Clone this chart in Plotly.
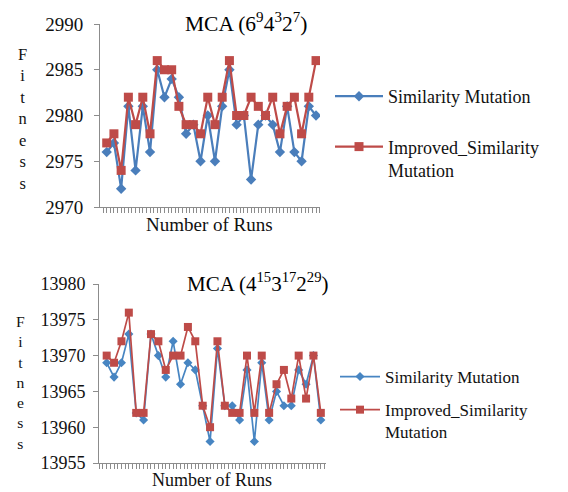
import plotly.graph_objects as go

runs = list(range(1, 31))

top_similarity = [2976, 2977, 2972, 2981, 2974, 2981, 2976, 2985, 2982, 2984,
                  2982, 2978, 2979, 2975, 2980, 2975, 2981, 2985, 2979, 2980,
                  2973, 2979, 2980, 2979, 2976, 2981, 2976, 2975, 2981, 2980]
top_improved = [2977, 2978, 2974, 2982, 2979, 2982, 2978, 2986, 2985, 2985,
                2981, 2979, 2979, 2978, 2982, 2979, 2982, 2986, 2980, 2980,
                2982, 2981, 2980, 2982, 2978, 2981, 2982, 2978, 2982, 2986]

bottom_similarity = [13969, 13967, 13969, 13973, 13962, 13961, 13973, 13970, 13967, 13972,
                     13966, 13969, 13968, 13963, 13958, 13971, 13963, 13963, 13961, 13968,
                     13958, 13969, 13961, 13965, 13963, 13963, 13968, 13966, 13970, 13961]
bottom_improved = [13970, 13969, 13972, 13976, 13962, 13962, 13973, 13972, 13968, 13970,
                   13970, 13974, 13972, 13963, 13960, 13972, 13963, 13962, 13962, 13970,
                   13962, 13970, 13962, 13966, 13968, 13964, 13970, 13964, 13970, 13962]

series_names = ["Similarity Mutation", "Improved_Similarity<br>Mutation"]
top_title = "MCA (6<sup>9</sup>4<sup>3</sup>2<sup>7</sup>)"
bottom_title = "MCA (4<sup>15</sup>3<sup>17</sup>2<sup>29</sup>)"
x_title = "Number of Runs"
y_title = "F<br>i<br>t<br>n<br>e<br>s<br>s"
top_yticks = [2970, 2975, 2980, 2985, 2990]
bottom_yticks = [13955, 13960, 13965, 13970, 13975, 13980]

BLUE = "#4a7ebb"
BLUE2 = "#4785c2"
RED = "#be4b48"
AXIS = "#8c8c8c"
TXT = "#111111"
FONT = "Liberation Serif"

# the page shows the figure offset by the body margin; size it to the visible window
OX, OY = 8, 8
W, H = 560, 484


def fx(px):
    return (px - OX) / W


def fy(py):
    return 1 - (py - OY) / H


fig = go.Figure()

fig.add_trace(go.Scatter(x=runs, y=top_similarity, mode="lines+markers", name=series_names[0],
                         line=dict(color=BLUE, width=2.2),
                         marker=dict(symbol="diamond", size=8, color=BLUE),
                         xaxis="x", yaxis="y", legend="legend", legendgroup="a"))
fig.add_trace(go.Scatter(x=runs, y=top_improved, mode="lines+markers", name=series_names[1],
                         line=dict(color=RED, width=2.2),
                         marker=dict(symbol="square", size=9, color=RED),
                         xaxis="x", yaxis="y", legend="legend", legendgroup="b"))
fig.add_trace(go.Scatter(x=runs, y=bottom_similarity, mode="lines+markers", name=series_names[0],
                         line=dict(color=BLUE2, width=1.7),
                         marker=dict(symbol="diamond", size=7, color=BLUE2),
                         xaxis="x2", yaxis="y2", legend="legend2", legendgroup="c"))
fig.add_trace(go.Scatter(x=runs, y=bottom_improved, mode="lines+markers", name=series_names[1],
                         line=dict(color=RED, width=1.7),
                         marker=dict(symbol="square", size=8, color=RED),
                         xaxis="x2", yaxis="y2", legend="legend2", legendgroup="d"))


def xax(domain, rng, anchor):
    return dict(domain=domain, range=rng, anchor=anchor, showgrid=False, zeroline=False,
                showline=True, linecolor=AXIS, linewidth=1, ticks="outside", ticklen=5,
                tickcolor=AXIS, tickmode="linear", tick0=0.5, dtick=0.5,
                showticklabels=False, fixedrange=True, automargin=False)


def yax(domain, rng, anchor, ticks, size, standoff):
    return dict(domain=domain, range=rng, anchor=anchor, showgrid=False, zeroline=False,
                showline=True, linecolor=AXIS, linewidth=1, ticks="outside", ticklen=5,
                tickcolor=AXIS, tickmode="array", tickvals=ticks,
                ticktext=[str(t) for t in ticks],
                tickfont=dict(family=FONT, size=size, color=TXT),
                ticklabelstandoff=standoff, fixedrange=True, automargin=False)


def note(text, x, y, size, color=TXT, anchor="center"):
    return dict(text=text, x=fx(x), y=fy(y), xref="paper", yref="paper",
                xanchor=anchor, yanchor="middle", showarrow=False,
                font=dict(family=FONT, size=size, color=color))


fig.update_layout(
    width=W, height=H, margin=dict(l=0, r=0, t=0, b=0, pad=0, autoexpand=False),
    paper_bgcolor="white", plot_bgcolor="white",
    xaxis=xax([fx(100), fx(320)], [0.07, 30.55], "y"),
    yaxis=yax([fy(207), fy(24)], [2970, 2990], "x", top_yticks, 19, 7),
    xaxis2=xax([fx(99), fx(326)], [-0.04, 30.7], "y2"),
    yaxis2=yax([fy(463), fy(284)], [13955, 13980], "x2", bottom_yticks, 18, 4),
    legend=dict(x=fx(330), y=fy(78), xanchor="left", yanchor="top",
                font=dict(family=FONT, size=18, color=TXT),
                itemwidth=48, valign="top", tracegroupgap=24,
                bgcolor="rgba(0,0,0,0)"),
    legend2=dict(x=fx(335), y=fy(359), xanchor="left", yanchor="top",
                 font=dict(family=FONT, size=17, color=TXT),
                 itemwidth=40, valign="top", tracegroupgap=8,
                 bgcolor="rgba(0,0,0,0)"),
    annotations=[
        note(top_title, 183, 23, 21.5, "black", "left"),
        note(bottom_title, 185, 282, 21, "black", "left"),
        note(y_title, 22, 119, 16.5),
        note(y_title, 20, 382, 15.6),
        note(x_title, 209, 224, 19),
        note(x_title, 212, 480, 18),
    ],
)

fig.write_html("out.html")
